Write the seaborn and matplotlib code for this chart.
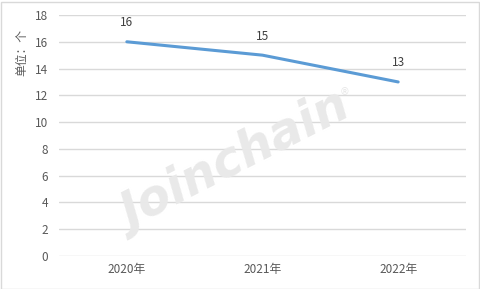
import matplotlib
matplotlib.use("Agg")
import matplotlib.pyplot as plt
import seaborn as sns
import pandas as pd
from matplotlib.patches import Rectangle

years = ["2020年", "2021年", "2022年"]
values = [16, 15, 13]
yticks = [0, 2, 4, 6, 8, 10, 12, 14, 16, 18]

sns.set_theme(style="white")
plt.rcParams['font.family'] = ['Noto Sans CJK SC', 'DejaVu Sans']

df = pd.DataFrame({"year": years, "value": values})

fig = plt.figure(figsize=(4.81, 2.89), dpi=100)
ax = fig.add_axes([59/481, 1-256/289, 407/481, 241/289])

# watermark
fig.text(236/481, 1-163/289, "Joinchain", fontsize=35, fontweight="bold", style="italic",
         color="#e9e9e9", rotation=27, ha="center", va="center", family="DejaVu Sans", zorder=0)
fig.text(345/481, 1-92/289, "®", fontsize=7, color="#e6e6e6", ha="center", va="center", family="DejaVu Sans")

sns.lineplot(data=df, x="year", y="value", ax=ax, color="#5B9BD5", linewidth=2.2, sort=False)
ax.set_xlim(-0.5, 2.5)
ax.set_ylim(0, 18)
ax.set_yticks(yticks)
ax.set_yticklabels([str(t) for t in yticks], fontsize=8.5, color="#595959")
ax.set_xticks(range(len(years)))
ax.set_xticklabels(years, fontsize=8.5, color="#595959")
ax.tick_params(axis="both", length=0, pad=8)
ax.tick_params(axis="x", pad=5)
ax.set_xlabel("")
ax.set_ylabel("")
ax.yaxis.grid(True, color="#d9d9d9", linewidth=1)
ax.set_axisbelow(True)
for s in ax.spines.values():
    s.set_visible(False)
ax.patch.set_alpha(0)

for i, v in enumerate(values):
    ax.annotate(str(v), (i, v), xytext=(0, 9), textcoords="offset points",
                ha="center", va="bottom", fontsize=8.5, color="#404040")

fig.text(22/481, 1-52/289, "单位：个", rotation=90, fontsize=8.5, color="#595959",
         ha="center", va="center")

fig.patches.append(Rectangle((0.5/481, 0.5/289), 479/481, 287/289, transform=fig.transFigure,
                             fill=False, edgecolor="#d9d9d9", linewidth=1))

fig.savefig("out.png", dpi=100)
